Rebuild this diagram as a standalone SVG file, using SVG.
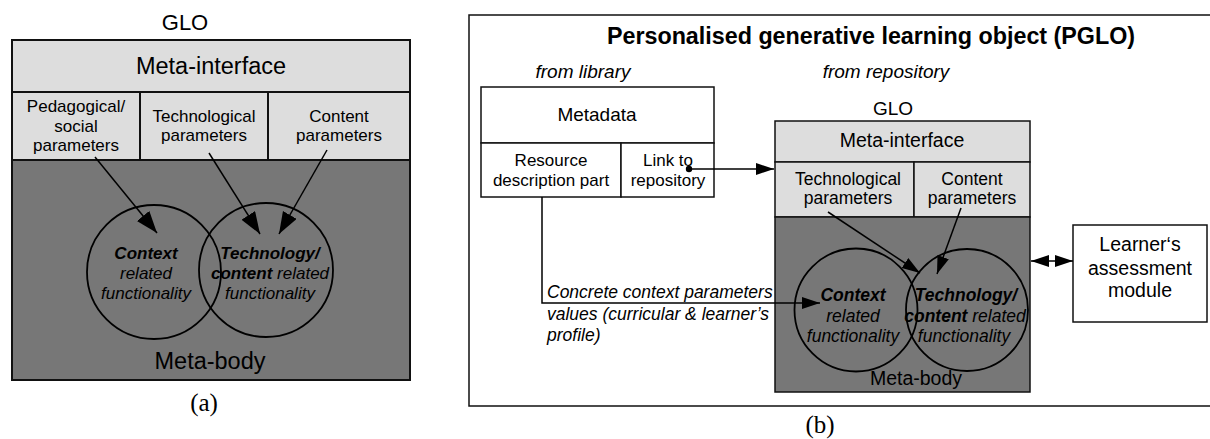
<svg xmlns="http://www.w3.org/2000/svg" width="1210" height="439" viewBox="0 0 1210 439">
  <style>
    .sans { font-family: "Liberation Sans", Arial, sans-serif; fill: #000; }
    .serif { font-family: "Liberation Serif", "Times New Roman", serif; fill: #000; }
    .mid { text-anchor: middle; }
    .it { font-style: italic; }
    .bi { font-style: italic; font-weight: bold; }
    .light { fill: #dddddd; stroke: #111; }
    .dark { fill: #777777; stroke: #111; }
    .white { fill: #ffffff; stroke: #111; }
    .ring { fill: none; stroke: #000; stroke-width: 1.8; }
    .wire { fill: none; stroke: #000; stroke-width: 1.5; }
  </style>
  <defs>
    <marker id="headA" markerUnits="userSpaceOnUse" markerWidth="24" markerHeight="18" refX="22" refY="8" orient="auto">
      <path d="M0,0 L22,8 L0,16 Z" fill="#000"/>
    </marker>
    <marker id="headB" markerUnits="userSpaceOnUse" markerWidth="19" markerHeight="13" refX="18" refY="6.5" orient="auto">
      <path d="M0,0.5 L18,6.5 L0,12.5 Z" fill="#000"/>
    </marker>
    <marker id="headBstart" markerUnits="userSpaceOnUse" markerWidth="19" markerHeight="13" refX="18" refY="6.5" orient="auto-start-reverse">
      <path d="M0,0.5 L18,6.5 L0,12.5 Z" fill="#000"/>
    </marker>
    <marker id="dot" markerUnits="userSpaceOnUse" markerWidth="8" markerHeight="8" refX="4" refY="4">
      <circle cx="4" cy="4" r="3.2" fill="#000"/>
    </marker>
  </defs>

  <!-- ===== (a) GLO structure ===== -->
  <g id="glo-a">
    <text class="sans mid" x="185" y="30" font-size="22">GLO</text>
    <rect class="light" x="12" y="40" width="398" height="52" stroke-width="2"/>
    <text class="sans mid" x="211" y="74" font-size="23.5">Meta-interface</text>
    <rect class="light" x="12" y="92" width="128" height="68" stroke-width="2"/>
    <rect class="light" x="140" y="92" width="128" height="68" stroke-width="2"/>
    <rect class="light" x="268" y="92" width="142" height="68" stroke-width="2"/>
    <rect class="dark" x="12" y="160" width="398" height="220" stroke-width="2"/>
  </g>
  <g id="param-ped-a" class="sans mid" font-size="17">
    <text x="76" y="112">Pedagogical/</text>
    <text x="76" y="131.5">social</text>
    <text x="76" y="151">parameters</text>
  </g>
  <g id="param-tech-a" class="sans mid" font-size="17">
    <text x="204" y="122">Technological</text>
    <text x="204" y="141">parameters</text>
  </g>
  <g id="param-content-a" class="sans mid" font-size="17">
    <text x="339" y="122">Content</text>
    <text x="339" y="141">parameters</text>
  </g>
  <g id="context-a">
    <circle class="ring" cx="154" cy="272" r="67"/>
    <text class="sans mid bi" x="146" y="259" font-size="17">Context</text>
    <text class="sans mid it" x="146" y="279" font-size="17">related</text>
    <text class="sans mid it" x="146" y="299" font-size="17">functionality</text>
  </g>
  <g id="techcontent-a">
    <circle class="ring" cx="266" cy="270" r="67"/>
    <text class="sans mid bi" x="270" y="259" font-size="17">Technology/</text>
    <text class="sans mid it" x="270" y="279" font-size="17"><tspan font-weight="bold">content</tspan> related</text>
    <text class="sans mid it" x="270" y="299" font-size="17">functionality</text>
  </g>
  <g id="metabody-a">
    <text class="sans mid" x="210" y="369" font-size="23.5">Meta-body</text>
  </g>
  <text class="serif mid" x="204" y="411" font-size="25">(a)</text>

  <g id="connectors-a" class="wire">
    <line x1="95" y1="157" x2="157" y2="233" marker-end="url(#headA)"/>
    <line x1="209" y1="153" x2="260" y2="234" marker-end="url(#headA)"/>
    <line x1="327" y1="150" x2="279" y2="234" marker-end="url(#headA)"/>
  </g>

  <!-- ===== (b) PGLO ===== -->
  <g id="pglo-frame">
    <path d="M1214,15 H469 V406 H1214" fill="none" stroke="#111" stroke-width="1.5"/>
    <text class="sans mid" x="871" y="44" font-size="23.3" font-weight="bold">Personalised generative learning object (PGLO)</text>
    <text class="sans mid it" x="583" y="78" font-size="19">from library</text>
    <text class="sans mid it" x="886" y="78" font-size="19">from repository</text>
  </g>

  <g id="metadata">
    <rect class="white" x="481" y="87" width="233" height="56" stroke-width="1.5"/>
    <text class="sans mid" x="597" y="121" font-size="19">Metadata</text>
  </g>
  <g id="resource-part">
    <rect class="white" x="481" y="143" width="140" height="54" stroke-width="1.5"/>
    <text class="sans mid" x="551" y="166" font-size="17">Resource</text>
    <text class="sans mid" x="551" y="186" font-size="17">description part</text>
  </g>
  <g id="link-part">
    <rect class="white" x="621" y="143" width="93" height="54" stroke-width="1.5"/>
    <text class="sans mid" x="668" y="166" font-size="17">Link to</text>
    <text class="sans mid" x="668" y="186" font-size="17">repository</text>
  </g>

  <g id="glo-b">
    <text class="sans mid" x="893" y="115" font-size="19">GLO</text>
    <rect class="light" x="775" y="121" width="255" height="41" stroke-width="1.5"/>
    <text class="sans mid" x="902" y="147" font-size="19.5">Meta-interface</text>
    <rect class="light" x="775" y="162" width="139" height="55" stroke-width="1.5"/>
    <rect class="light" x="914" y="162" width="116" height="55" stroke-width="1.5"/>
    <rect class="dark" x="775" y="217" width="255" height="175" stroke-width="1.5"/>
    <text class="sans mid" x="848" y="185" font-size="17.5">Technological</text>
    <text class="sans mid" x="848" y="204" font-size="17.5">parameters</text>
    <text class="sans mid" x="972" y="185" font-size="17.5">Content</text>
    <text class="sans mid" x="972" y="204" font-size="17.5">parameters</text>
    <text class="sans mid" x="916" y="385" font-size="19.5">Meta-body</text>
  </g>
  <g id="context-b">
    <circle class="ring" cx="856" cy="310" r="61.5"/>
    <text class="sans mid bi" x="853" y="301" font-size="17.5">Context</text>
    <text class="sans mid it" x="853" y="322" font-size="17.5">related</text>
    <text class="sans mid it" x="853" y="342" font-size="17.5">functionality</text>
  </g>
  <g id="techcontent-b">
    <circle class="ring" cx="967" cy="310" r="61"/>
    <text class="sans mid bi" x="966" y="301" font-size="17.5">Technology/</text>
    <text class="sans mid it" x="965" y="322" font-size="17.5"><tspan font-weight="bold">content</tspan> related</text>
    <text class="sans mid it" x="964" y="342" font-size="17.5">functionality</text>
  </g>

  <g id="learner-assessment">
    <rect class="white" x="1073" y="225" width="134" height="97" stroke-width="1.5"/>
    <text class="sans mid" x="1140" y="251" font-size="19.5">Learner‘s</text>
    <text class="sans mid" x="1140" y="275" font-size="19.5">assessment</text>
    <text class="sans mid" x="1140" y="297" font-size="19.5">module</text>
  </g>

  <g id="context-values-label" class="sans it" font-size="17.5">
    <text x="547" y="298">Concrete context parameters</text>
    <text x="547" y="320">values (curricular &amp; learner’s</text>
    <text x="547" y="341">profile)</text>
  </g>

  <text class="serif mid" x="820" y="433" font-size="25">(b)</text>

  <g id="connectors-b" class="wire">
    <line x1="689" y1="169" x2="774" y2="169" marker-start="url(#dot)" marker-end="url(#headB)"/>
    <polyline points="542,197 542,303 820,303" marker-end="url(#headB)"/>
    <line x1="828" y1="212" x2="920" y2="273" marker-end="url(#headB)"/>
    <line x1="961" y1="208" x2="937" y2="274" marker-end="url(#headB)"/>
    <line x1="1031" y1="261" x2="1073" y2="261" marker-start="url(#headBstart)" marker-end="url(#headB)"/>
  </g>
</svg>
